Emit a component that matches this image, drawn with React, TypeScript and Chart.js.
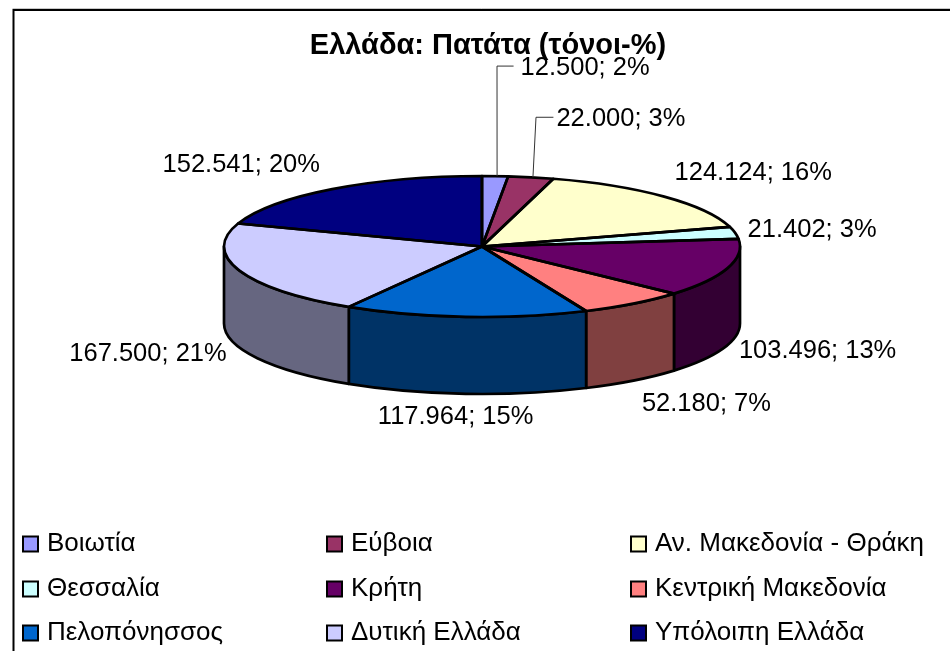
import React, { useEffect, useRef } from "react";
import { Chart, registerables } from "chart.js";

Chart.register(...registerables);

const categories = [
  "Βοιωτία",
  "Εύβοια",
  "Αν. Μακεδονία - Θράκη",
  "Θεσσαλία",
  "Κρήτη",
  "Κεντρική Μακεδονία",
  "Πελοπόνησσος",
  "Δυτική Ελλάδα",
  "Υπόλοιπη Ελλάδα",
];
const tonnes = [12500, 22000, 124124, 21402, 103496, 52180, 117964, 167500, 152541];
const valueLabels = [
  "12.500; 2%",
  "22.000; 3%",
  "124.124; 16%",
  "21.402; 3%",
  "103.496; 13%",
  "52.180; 7%",
  "117.964; 15%",
  "167.500; 21%",
  "152.541; 20%",
];
const topColours = ["#9999FF", "#993366", "#FFFFCC", "#CCFFFF", "#660066", "#FF8080", "#0066CC", "#CCCCFF", "#000080"];
const wallColours = ["#4D4D80", "#4D1A33", "#808066", "#668080", "#330033", "#804040", "#003366", "#666680", "#000040"];
const titleText = "Ελλάδα: Πατάτα (τόνοι-%)";

const FONT = '"Liberation Sans", Arial, sans-serif';
const LABEL_SIZE = 25.5;
const LEGEND_SIZE = 26;
const OUTLINE = 2.7;

const pieView = { cx: 482, cy: 246.5, ry: 70.5, depth: 77 };
const labelOffsets = [
  [90, -108], [90, -58], [89, -24], [77, -3], [90, 83], [73, 100.5], [-10, 100], [-91.5, 83], [-91, -24],
];
const leaders: Record<number, { elbowX: number; gap: number }> = {
  0: { elbowX: 497, gap: 7 },
  1: { elbowX: 536, gap: 3 },
};
const legendView = { cols: [23, 327, 631], rows: [544, 589, 633], box: 15, textGap: 9, textDrop: 0 };
const frame = { x: 13.5, y: 10 };

const pie3d = {
  id: "pie3d",
  beforeDraw(chart: any) {
    const { ctx, width, height } = chart;
    ctx.save();
    ctx.strokeStyle = "#c8c8c8";
    ctx.lineWidth = 1;
    ctx.beginPath();
    ctx.moveTo(frame.x - 1, frame.y - 1.5);
    ctx.lineTo(width, frame.y - 1.5);
    ctx.stroke();
    ctx.strokeStyle = "#000";
    ctx.lineWidth = 2;
    ctx.beginPath();
    ctx.moveTo(frame.x, height);
    ctx.lineTo(frame.x, frame.y);
    ctx.lineTo(width, frame.y);
    ctx.stroke();
    ctx.restore();
  },
  beforeDatasetsDraw(chart: any) {
    const { ctx } = chart;
    const arcs = chart.getDatasetMeta(0).data;
    const r = arcs[0].outerRadius;
    const { cx, cy, ry, depth } = pieView;

    ctx.save();
    ctx.lineWidth = OUTLINE;
    ctx.strokeStyle = "#000";
    ctx.lineJoin = "round";
    arcs.forEach((arc: any, i: number) => {
      const s = Math.max(arc.startAngle, 0);
      const e = Math.min(arc.endAngle, Math.PI);
      if (e <= s) return;
      ctx.beginPath();
      ctx.ellipse(cx, cy, r, ry, 0, s, e);
      ctx.lineTo(cx + r * Math.cos(e), cy + ry * Math.sin(e) + depth);
      ctx.ellipse(cx, cy + depth, r, ry, 0, e, s, true);
      ctx.closePath();
      ctx.fillStyle = wallColours[i];
      ctx.fill();
      ctx.stroke();
    });
    ctx.restore();

    ctx.save();
    ctx.translate(cx, cy);
    ctx.scale(1, ry / r);
    ctx.translate(-arcs[0].x, -arcs[0].y);
  },
  afterDatasetsDraw(chart: any) {
    const { ctx } = chart;
    ctx.restore();
    const arcs = chart.getDatasetMeta(0).data;
    const r = arcs[0].outerRadius;
    const { cx, cy, ry } = pieView;

    ctx.save();
    ctx.lineWidth = OUTLINE;
    ctx.strokeStyle = "#000";
    ctx.lineJoin = "round";
    arcs.forEach((arc: any) => {
      ctx.beginPath();
      ctx.moveTo(cx, cy);
      ctx.ellipse(cx, cy, r, ry, 0, arc.startAngle, arc.endAngle);
      ctx.closePath();
      ctx.stroke();
    });
    ctx.restore();

    ctx.save();
    ctx.font = `${LABEL_SIZE}px ${FONT}`;
    ctx.textBaseline = "middle";
    ctx.textAlign = "center";
    ctx.fillStyle = "#000";
    arcs.forEach((arc: any, i: number) => {
      const mid = (arc.startAngle + arc.endAngle) / 2;
      const ex = cx + r * Math.cos(mid);
      const ey = cy + ry * Math.sin(mid);
      const lx = ex + labelOffsets[i][0];
      const ly = ey + labelOffsets[i][1];
      const leader = leaders[i];
      if (leader) {
        const w = ctx.measureText(valueLabels[i]).width;
        ctx.strokeStyle = "#333";
        ctx.lineWidth = 1;
        ctx.beginPath();
        ctx.moveTo(ex + 2, ey);
        ctx.lineTo(leader.elbowX, ly - 2);
        ctx.lineTo(lx - w / 2 - leader.gap, ly - 2);
        ctx.stroke();
      }
      ctx.fillText(valueLabels[i], lx, ly);
    });
    ctx.restore();

    ctx.save();
    ctx.font = `${LEGEND_SIZE}px ${FONT}`;
    ctx.textBaseline = "middle";
    ctx.textAlign = "left";
    categories.forEach((name, i) => {
      const x = legendView.cols[i % 3];
      const y = legendView.rows[Math.floor(i / 3)];
      const b = legendView.box;
      ctx.fillStyle = topColours[i];
      ctx.strokeStyle = "#000";
      ctx.lineWidth = 2;
      ctx.fillRect(x, y - b / 2, b, b);
      ctx.strokeRect(x, y - b / 2, b, b);
      ctx.fillStyle = "#000";
      ctx.fillText(name, x + b + legendView.textGap, y + legendView.textDrop);
    });
    ctx.restore();
  },
};

export default function App() {
  const ref = useRef<HTMLCanvasElement>(null);
  useEffect(() => {
    const chart = new Chart(ref.current!, {
      type: "pie",
      data: {
        labels: categories,
        datasets: [{ data: tonnes, backgroundColor: topColours, borderWidth: 0 }],
      },
      options: {
        animation: false,
        responsive: false,
        layout: { padding: { left: 230, right: 204, top: 0, bottom: 71 } },
        plugins: {
          legend: { display: false },
          tooltip: { enabled: false },
          title: {
            display: true,
            text: titleText,
            color: "#000",
            font: { family: FONT, size: 29, weight: "bold" },
            padding: { top: 29, bottom: 0 },
          },
        },
      },
      plugins: [pie3d],
    } as any);
    return () => chart.destroy();
  }, []);
  return (
    <div style={{ position: "fixed", left: 0, top: 0, width: 950, height: 651, background: "#fff", overflow: "hidden" }}>
      <canvas ref={ref} width={950} height={651} style={{ display: "block" }} />
    </div>
  );
}
